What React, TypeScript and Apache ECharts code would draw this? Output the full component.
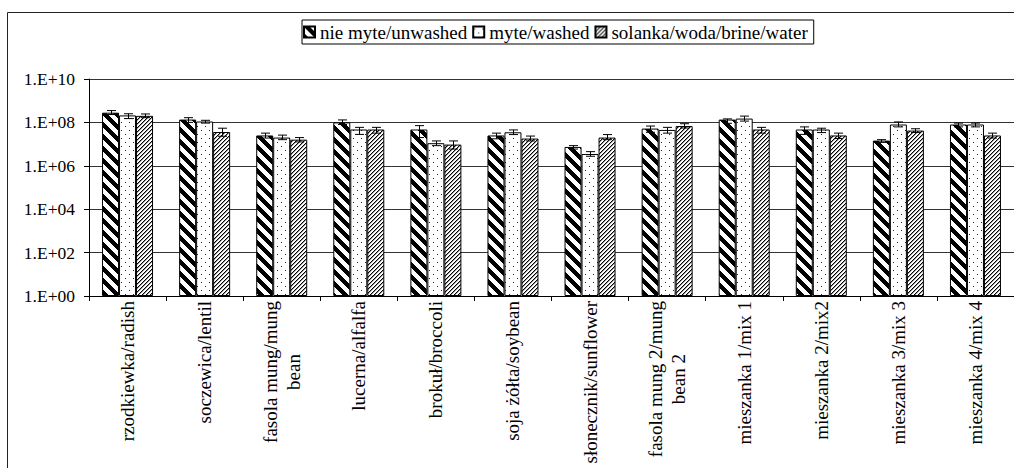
import React, { useEffect, useRef } from 'react';
import * as echarts from 'echarts';

const categories = [
  'rzodkiewka/radish',
  'soczewica/lentil',
  'fasola mung/mung\nbean',
  'lucerna/alfalfa',
  'brokuł/broccoli',
  'soja żółta/soybean',
  'słonecznik/sunflower',
  'fasola mung 2/mung\nbean 2',
  'mieszanka 1/mix 1',
  'mieszanka 2/mix2',
  'mieszanka 3/mix 3',
  'mieszanka 4/mix 4',
];
const seriesNames = ['nie myte/unwashed', 'myte/washed', 'solanka/woda/brine/water'];

const unwashed = [2.8e8, 1.35e8, 2.5e7, 1.0e8, 4.7e7, 2.5e7, 7.4e6, 5.2e7, 1.35e8, 4.7e7, 1.45e7, 8e7];
const unwashedHigh = [3.5e8, 1.65e8, 3.2e7, 1.3e8, 7.1e7, 3.2e7, 8.5e6, 6.8e7, 1.45e8, 6.2e7, 1.6e7, 9.3e7];
const unwashedLow = [2.3e8, 1.0e8, 1.9e7, 0.8e8, 2.0e7, 1.75e7, 5.9e6, 3.5e7, 0.91e8, 2.8e7, 1.2e7, 6.2e7];

const washed = [2.1e8, 1.1e8, 2.0e7, 4.7e7, 1.1e7, 3.5e7, 3.5e6, 4.5e7, 1.5e8, 4.7e7, 8e7, 8e7];
const washedHigh = [2.5e8, 1.25e8, 2.6e7, 5.9e7, 1.4e7, 4.5e7, 4.5e6, 5.9e7, 1.95e8, 5.4e7, 1.05e8, 9.3e7];
const washedLow = [1.5e8, 0.93e8, 1.6e7, 2.8e7, 0.85e7, 2.75e7, 2.75e6, 3.2e7, 1.15e8, 3.4e7, 6.2e7, 6.2e7];

const brine = [2.0e8, 3.6e7, 1.6e7, 4.7e7, 9.5e6, 1.8e7, 2.0e7, 6.8e7, 4.7e7, 2.5e7, 4.2e7, 2.5e7];
const brineHigh = [2.45e8, 5.4e7, 2.0e7, 5.9e7, 1.4e7, 2.35e7, 2.75e7, 8.7e7, 5.9e7, 3.2e7, 5.1e7, 3.2e7];
const brineLow = [1.65e8, 2.3e7, 1.26e7, 3.2e7, 5.9e6, 1.4e7, 1.6e7, 5.5e7, 3.2e7, 1.8e7, 3.4e7, 1.9e7];

const yTickLabels = ['1.E+00', '1.E+02', '1.E+04', '1.E+06', '1.E+08', '1.E+10'];

const FONT = "'Liberation Serif', 'Times New Roman', serif";
const BAR_W = 17;

function makeTile(w: number, h: number, fn: (x: number, y: number) => string | null) {
  const c = document.createElement('canvas');
  c.width = w;
  c.height = h;
  const ctx = c.getContext('2d')!;
  ctx.fillStyle = '#fff';
  ctx.fillRect(0, 0, w, h);
  for (let y = 0; y < h; y++) {
    for (let x = 0; x < w; x++) {
      const col = fn(x, y);
      if (col) {
        ctx.fillStyle = col;
        ctx.fillRect(x, y, 1, 1);
      }
    }
  }
  return { image: c, repeat: 'repeat', imageWidth: w, imageHeight: h };
}

export default function App() {
  const ref = useRef<HTMLDivElement>(null);
  useEffect(() => {
    document.body.style.margin = '0';
    const chart = echarts.init(ref.current!, null, { renderer: 'svg' });

    const stripes = makeTile(12, 12, (x, y) => (((x - y) % 12) + 12) % 12 < 6 ? '#000' : null);
    const dots = makeTile(8, 8, (x, y) => ((x === 1 && y === 2) || (x === 5 && y === 6) ? '#222' : null));
    const hatch = makeTile(4, 4, (x, y) => {
      const m = (x + y) % 4;
      if (m === 0) return '#000';
      if (m === 1) return '#999';
      return null;
    });
    const patterns = [stripes, dots, hatch];
    const values = [unwashed, washed, brine];
    const lows = [unwashedLow, washedLow, brineLow];
    const highs = [unwashedHigh, washedHigh, brineHigh];

    const barSeries = values.map((vals, k) => ({
      type: 'bar',
      name: seriesNames[k],
      data: vals.map((v) => Math.log10(v)),
      barWidth: BAR_W,
      barGap: '0%',
      itemStyle: { color: patterns[k], borderColor: '#000', borderWidth: 1 },
      silent: true,
      z: 2,
    }));

    const errSeries = lows.map((lo, k) => ({
      type: 'custom',
      name: 'err' + k,
      silent: true,
      z: 5,
      clip: false,
      data: lo.map((l, i) => [i, Math.log10(l), Math.log10(highs[k][i])]),
      encode: { x: 0, y: [1, 2] },
      renderItem: (params: any, api: any) => {
        const i = api.value(0);
        const p1 = api.coord([i, api.value(1)]);
        const p2 = api.coord([i, api.value(2)]);
        const x = Math.round(p1[0] + (k - 1) * BAR_W) + 0.5;
        const cap = 4.5;
        const st = { stroke: '#000', lineWidth: 1 };
        return {
          type: 'group',
          children: [
            { type: 'line', shape: { x1: x, y1: p1[1], x2: x, y2: p2[1] }, style: st },
            { type: 'line', shape: { x1: x - cap, y1: p1[1], x2: x + cap, y2: p1[1] }, style: st },
            { type: 'line', shape: { x1: x - cap, y1: p2[1], x2: x + cap, y2: p2[1] }, style: st },
          ],
        };
      },
    }));

    chart.setOption({
      animation: false,
      backgroundColor: '#fff',
      textStyle: { fontFamily: FONT, color: '#000' },
      graphic: [
        {
          type: 'rect',
          shape: { x: 7.5, y: 12.5, width: 1100, height: 500 },
          style: { fill: 'none', stroke: '#222', lineWidth: 1 },
          z: -10,
          silent: true,
        },
      ],
      legend: {
        data: seriesNames,
        left: 302,
        top: 20,
        padding: [2, 6, 2, 1],
        itemGap: 5,
        itemWidth: 11,
        itemHeight: 11,
        icon: 'rect',
        borderColor: '#000',
        borderWidth: 1,
        borderRadius: 0,
        selectedMode: false,
        textStyle: { fontFamily: FONT, fontSize: 19, color: '#000', lineHeight: 20 },
      },
      grid: { left: 89, top: 79, width: 928, height: 217, containLabel: false },
      xAxis: {
        type: 'category',
        data: categories,
        boundaryGap: true,
        axisLine: { lineStyle: { color: '#000', width: 1 } },
        axisTick: { show: true, length: 5, lineStyle: { color: '#000' } },
        axisLabel: {
          interval: 0,
          rotate: 90,
          margin: 5,
          hideOverlap: false,
          formatter: (v: string) => v.split('\n').map((s) => `{c|${s}}`).join('\n'),
          rich: {
            c: { align: 'center', fontFamily: FONT, fontSize: 19, lineHeight: 23, color: '#000' },
          },
        },
      },
      yAxis: {
        type: 'value',
        min: 0,
        max: 10,
        interval: 2,
        axisLine: { show: true, lineStyle: { color: '#000', width: 1 } },
        axisTick: { show: true, length: 5, lineStyle: { color: '#000' } },
        splitLine: { show: true, lineStyle: { color: '#333', width: 1 } },
        axisLabel: {
          margin: 14,
          fontFamily: FONT,
          fontSize: 17.5,
          color: '#000',
          formatter: (v: number) => yTickLabels[Math.round(v / 2)],
        },
      },
      series: [...barSeries, ...errSeries],
    });
    return () => chart.dispose();
  }, []);
  return <div ref={ref} style={{ width: 1014, height: 468 }} />;
}
